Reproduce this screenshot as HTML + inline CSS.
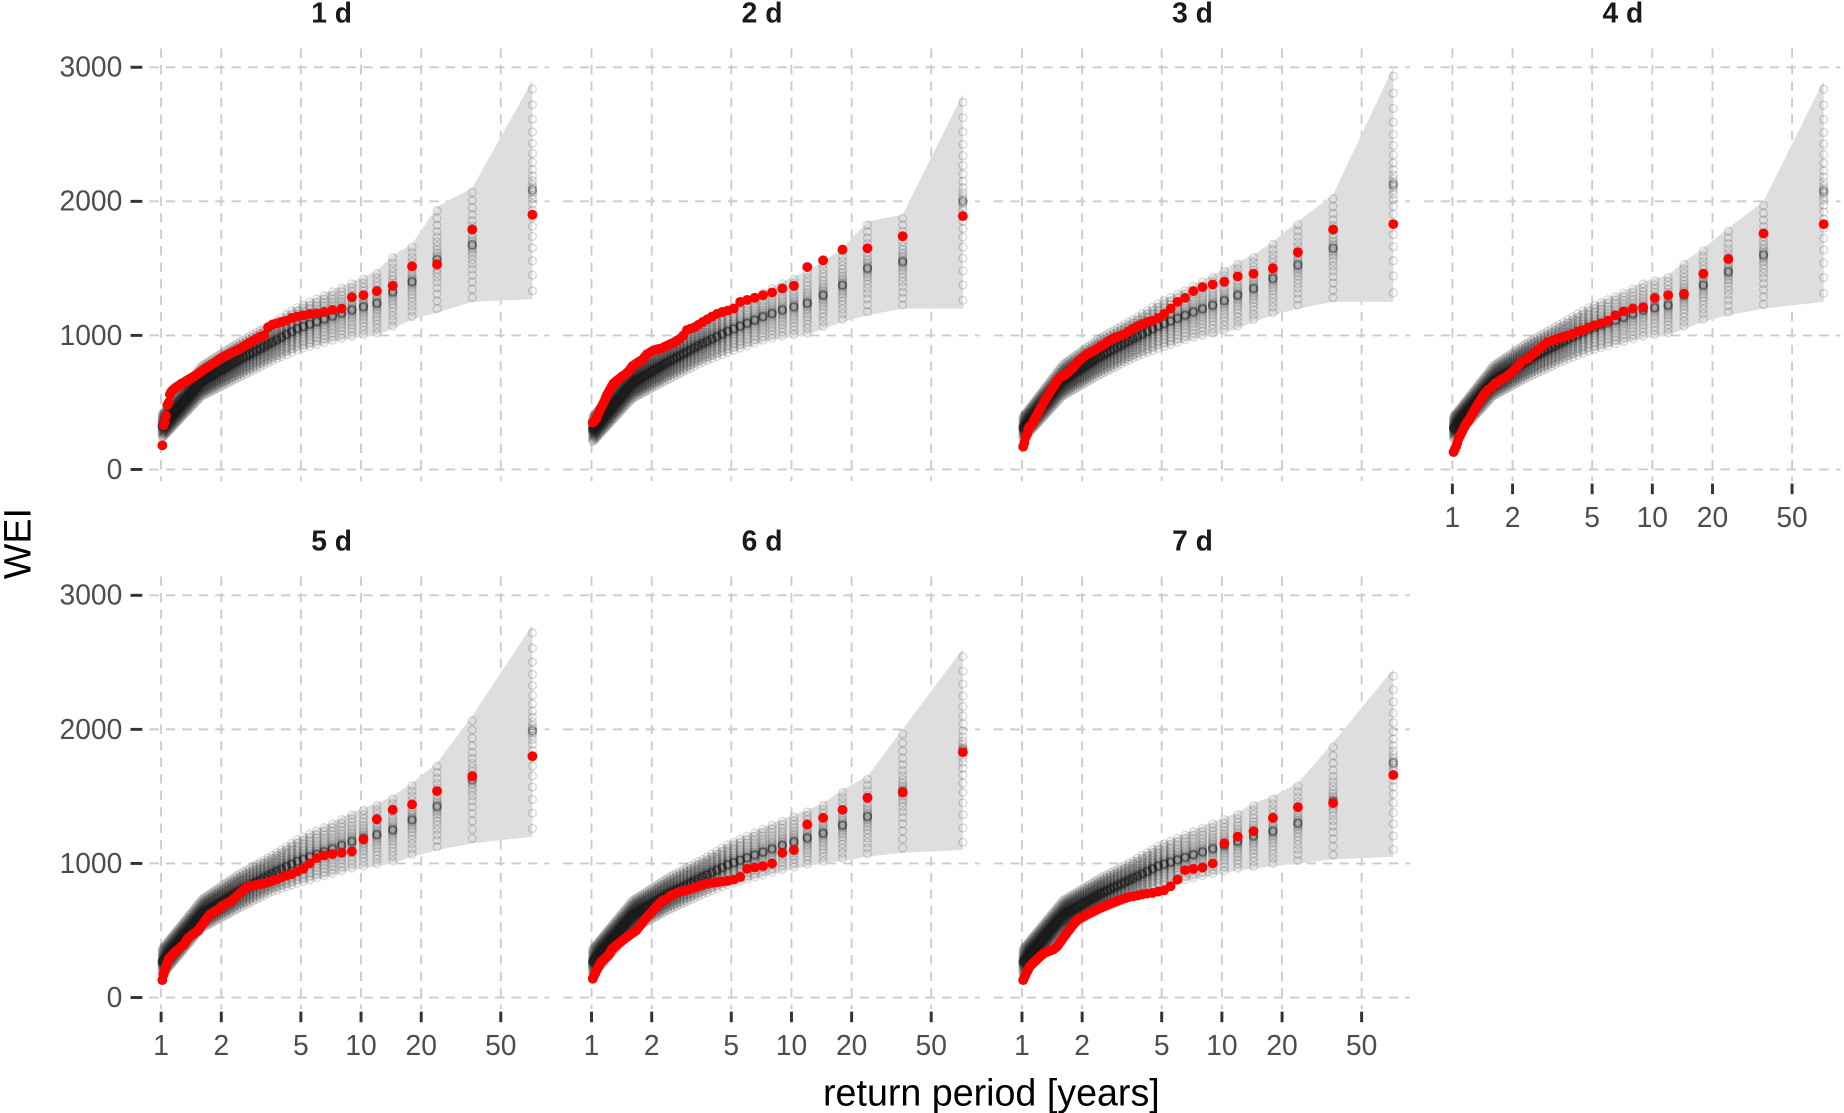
<!DOCTYPE html>
<html><head><meta charset="utf-8"><style>
html,body{margin:0;padding:0;background:#fff;}
svg{display:block;font-family:"Liberation Sans",sans-serif;}
</style></head><body>
<svg id="chart" width="1844" height="1113" viewBox="0 0 1568 946" xmlns="http://www.w3.org/2000/svg"></svg>
<script>
const panelTitles = ["1 d","2 d","3 d","4 d","5 d","6 d","7 d"];
const xTicks = [1,2,5,10,20,50];
const yTicks = [0,1000,2000,3000];
const nYears = 71;
const obs1 = [1900,1790,1530,1515,1370,1330,1300,1285,1200,1190,1175,1165,1160,1150,1140,1130,1110,1100,1090,1080,1060,1000,990,975,960,945,930,915,900,890,880,870,860,850,840,830,820,805,795,785,775,765,755,745,735,725,715,705,695,690,680,675,665,660,650,645,640,630,625,615,610,600,590,580,560,500,480,400,350,330,180];
const obs2 = [1890,1740,1650,1640,1560,1510,1370,1350,1320,1300,1280,1265,1250,1200,1185,1175,1160,1140,1120,1100,1080,1060,1050,1040,1000,975,960,945,935,925,915,905,900,895,890,880,870,860,840,820,810,800,790,780,770,750,730,720,705,700,690,680,670,660,650,640,620,600,580,560,540,510,490,470,450,430,410,380,370,360,350];
const obs3 = [1830,1790,1620,1500,1460,1440,1400,1380,1360,1330,1280,1250,1200,1160,1130,1110,1100,1085,1070,1050,1030,1010,1000,990,980,965,950,930,920,905,890,880,870,860,845,830,815,800,780,760,745,730,720,705,700,690,680,660,640,620,600,580,560,540,520,500,480,460,440,420,400,380,360,340,330,320,300,260,240,200,170];
const obs4 = [1830,1760,1570,1460,1310,1300,1280,1210,1200,1180,1150,1110,1090,1075,1060,1040,1030,1010,1000,990,980,970,960,950,930,910,890,870,850,830,820,810,790,770,750,730,715,700,690,680,670,660,650,640,625,610,600,590,575,560,540,520,500,480,460,440,420,400,380,360,350,330,310,290,270,250,230,200,170,150,130];
const obs5 = [1800,1650,1540,1440,1400,1330,1180,1090,1080,1070,1060,1040,1000,960,940,920,910,895,880,870,860,850,845,840,835,830,820,800,780,760,740,720,710,700,690,680,660,650,640,630,620,600,580,560,540,520,500,490,480,470,460,450,440,420,400,390,380,370,360,350,340,330,320,310,300,290,260,230,200,170,130];
const obs6 = [1830,1530,1490,1400,1340,1290,1100,1080,1000,980,970,960,900,880,870,865,860,855,850,840,830,820,810,800,795,790,780,770,760,740,730,720,700,680,660,640,620,600,580,560,540,520,500,490,480,470,460,450,440,430,420,410,400,390,380,370,360,340,320,310,300,290,280,270,260,240,220,200,180,160,140];
const obs7 = [1660,1450,1420,1340,1240,1200,1150,1000,970,960,950,880,830,800,790,780,775,770,760,755,750,740,730,720,710,700,690,680,670,660,650,640,630,620,610,600,590,580,560,540,520,500,480,460,440,420,400,380,370,360,355,350,345,340,335,330,320,310,300,290,280,270,260,250,240,230,210,190,170,150,130];
const bandRanks = [1,2,3,4,5,6,8,10,15,20,30,45,71];
const low1=[1270,1250,1170,1120,1050,1000,980,950,880,800,670,540,230], high1=[2900,2100,1960,1680,1600,1480,1400,1340,1220,1100,950,780,420];
const low2=[1200,1200,1150,1100,1050,1000,980,950,860,790,660,520,200], high2=[2800,1900,1850,1650,1550,1480,1400,1330,1200,1090,940,770,400];
const low3=[1250,1250,1200,1150,1100,1050,1000,970,890,820,690,540,220], high3=[3000,2050,1850,1700,1600,1550,1450,1380,1250,1130,980,790,400];
const low4=[1250,1200,1150,1100,1050,1000,980,940,870,800,680,540,220], high4=[2900,2000,1800,1650,1550,1450,1400,1330,1220,1110,960,780,400];
const low5=[1200,1150,1100,1050,1000,980,950,910,840,780,650,510,160], high5=[2780,2100,1750,1600,1500,1450,1380,1310,1190,1070,920,740,370];
const low6=[1100,1080,1050,1020,1000,980,940,900,830,760,640,500,160], high6=[2600,2000,1650,1550,1450,1400,1330,1270,1150,1040,900,730,370];
const low7=[1050,1030,1000,980,960,950,910,880,820,750,640,500,160], high7=[2450,1900,1600,1500,1450,1380,1310,1250,1140,1030,890,730,370];
const obsAll=[obs1,obs2,obs3,obs4,obs5,obs6,obs7];
const lowAll=[low1,low2,low3,low4,low5,low6,low7];
const highAll=[high1,high2,high3,high4,high5,high6,high7];

const NS="http://www.w3.org/2000/svg";
const svg=document.getElementById('chart');
function mk(tag,attrs,parent){const e=document.createElementNS(NS,tag);for(const k in attrs)e.setAttribute(k,attrs[k]);(parent||svg).appendChild(e);return e;}
const colX1=[137,503,869,1235];
const rowY0=[399,848];
const DEC=170, VS=0.114;
function interpBand(arr,rank){
  for(let i=0;i<bandRanks.length-1;i++){
    const a=bandRanks[i],b=bandRanks[i+1];
    if(rank>=a&&rank<=b){const t=(Math.log(rank)-Math.log(a))/(Math.log(b)-Math.log(a));return arr[i]+(arr[i+1]-arr[i])*t;}
  }
  return arr[arr.length-1];
}
for(let p=0;p<7;p++){
  const col=p<4?p:p-4, row=p<4?0:1;
  const x1=colX1[col], y0=rowY0[row];
  const X=T=>x1+DEC*Math.log10(T);
  const Y=v=>y0-VS*v;
  const g=mk('g',{});
  
  
  const left=x1-24,right=x1+330,top=y0-358,bottom=y0+10;
  yTicks.forEach(v=>{const l=mk('line',{x1:left,x2:right,y1:Y(v),y2:Y(v),stroke:'#cccccc','stroke-width':1.6,'stroke-dasharray':'8,6'},g);
    });
  xTicks.forEach(t=>{const l=mk('line',{x1:X(t),x2:X(t),y1:top,y2:bottom,stroke:'#cccccc','stroke-width':1.6,'stroke-dasharray':'8,6'},g);
    });
  const obs=obsAll[p],lo=lowAll[p],hi=highAll[p];
  let up=[],dn=[];
  for(let r=1;r<=nYears;r++){const T=(nYears+1)/r;up.push(X(T)+','+Y(interpBand(hi,r)));dn.push(X(T)+','+Y(interpBand(lo,r)));}
  const band=mk('polygon',{points:up.concat(dn.reverse()).join(' '),fill:'#dedede'},g);
  
  const sg=mk('g',{fill:'none',stroke:'#222','stroke-opacity':0.16,'stroke-width':1.3},g);
  
  const N=28;
  for(let r=1;r<=nYears;r++){
    const T=(nYears+1)/r, l=interpBand(lo,r), h=interpBand(hi,r), m=(l+h)/2, hw=(h-l)/2;
    for(let k=0;k<N;k++){
      const u=2*(k+0.5)/N-1;
      const v=m+hw*Math.sign(u)*Math.pow(Math.abs(u),2.2);
      mk('circle',{cx:X(T),cy:Y(v),r:3.3},sg);
    }
  }
  const og=mk('g',{fill:'#ff0000'},g);
  
  obs.forEach((v,i)=>{const T=(nYears+1)/(i+1);const c=mk('circle',{cx:X(T),cy:Y(v),r:4.2},og);
    });
  const tt=mk('text',{x:x1+145,y:y0-380,'text-anchor':'middle','font-size':24,'font-weight':'bold',fill:'#1a1a1a'},g);
  tt.textContent=panelTitles[p];
  
  if(col===0){
    yTicks.forEach(v=>{
      mk('line',{x1:111,x2:121,y1:Y(v),y2:Y(v),stroke:'#333','stroke-width':2.5},g);
      const t=mk('text',{x:104,y:Y(v)+8,'text-anchor':'end','font-size':24,fill:'#4d4d4d'},g);
      t.textContent=v;
    });
  }
  if(row===1||col===3){
    xTicks.forEach(t=>{
      mk('line',{x1:X(t),x2:X(t),y1:y0+12,y2:y0+21,stroke:'#333','stroke-width':2.5},g);
      const tx=mk('text',{x:X(t),y:y0+49,'text-anchor':'middle','font-size':24,fill:'#4d4d4d'},g);
      tx.textContent=t;
    });
  }
}
const yt=mk('text',{x:0,y:0,transform:'translate(26,462) rotate(-90)','text-anchor':'middle','font-size':32,fill:'#000'});
yt.textContent='WEI';


const xt=mk('text',{x:843,y:940,'text-anchor':'middle','font-size':32,fill:'#000'});
xt.textContent='return period [years]';


</script>
</body></html>
